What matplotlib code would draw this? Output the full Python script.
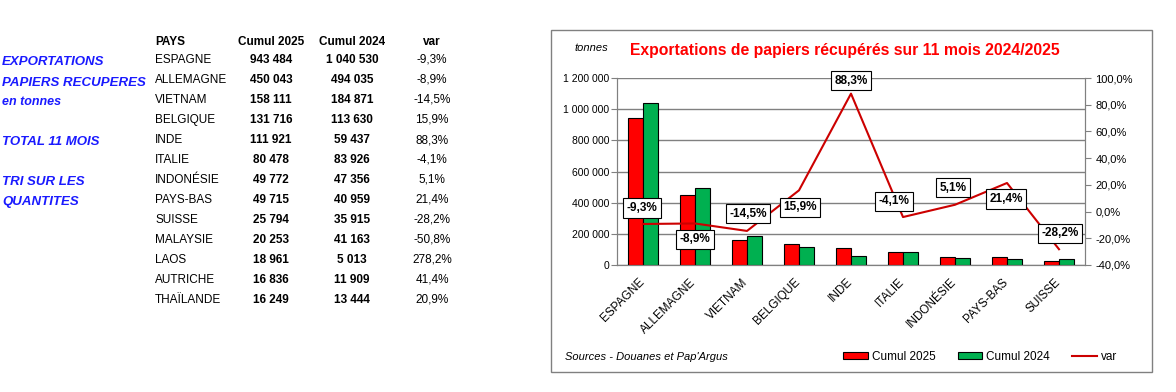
import matplotlib
matplotlib.use("Agg")
import matplotlib.pyplot as plt
import matplotlib.transforms as mtrans
from matplotlib.patches import Rectangle, Patch
from matplotlib.lines import Line2D
from matplotlib.ticker import FuncFormatter

plt.rcParams['font.family'] = ['Liberation Sans', 'DejaVu Sans']

pays = ['ESPAGNE', 'ALLEMAGNE', 'VIETNAM', 'BELGIQUE', 'INDE', 'ITALIE', 'INDONÉSIE',
        'PAYS-BAS', 'SUISSE', 'MALAYSIE', 'LAOS', 'AUTRICHE', 'THAÏLANDE']
cumul_2025 = [943484, 450043, 158111, 131716, 111921, 80478, 49772,
              49715, 25794, 20253, 18961, 16836, 16249]
cumul_2024 = [1040530, 494035, 184871, 113630, 59437, 83926, 47356,
              40959, 35915, 41163, 5013, 11909, 13444]
var = [-9.3, -8.9, -14.5, 15.9, 88.3, -4.1, 5.1, 21.4, -28.2, -50.8, 278.2, 41.4, 20.9]

n_chart = 9  # only the first 9 countries are in the chart

W, H = 1176, 392
def fx(px):
    return px / W
def fy(py):
    return 1 - py / H

def fmt_num(v):
    return f"{v:,}".replace(",", " ")

def fmt_pct(v):
    return f"{v:.1f}%".replace(".", ",")

fig = plt.figure(figsize=(W / 100, H / 100), dpi=100)

# ---- left side: text + table
blue = '#1a1aff'
for txt, py, size in [('EXPORTATIONS', 62, 9.5), ('PAPIERS RECUPERES', 83, 9.5),
                      ('en tonnes', 102, 9), ('TOTAL 11 MOIS', 142, 9.5),
                      ('TRI SUR LES', 182, 9.5), ('QUANTITES', 202, 9.5)]:
    fig.text(fx(2), fy(py), txt, color=blue, fontsize=size, fontweight='bold',
             fontstyle='italic', va='center', ha='left')

fig.text(fx(155), fy(42), 'PAYS', fontsize=8.5, fontweight='bold', va='center')
fig.text(fx(271), fy(42), 'Cumul 2025', fontsize=8.5, fontweight='bold', va='center', ha='center')
fig.text(fx(352), fy(42), 'Cumul 2024', fontsize=8.5, fontweight='bold', va='center', ha='center')
fig.text(fx(432), fy(42), 'var', fontsize=8.5, fontweight='bold', va='center', ha='center')
for i, p in enumerate(pays):
    py = 60 + 20 * i
    fig.text(fx(155), fy(py), p, fontsize=8.5, va='center')
    fig.text(fx(271), fy(py), fmt_num(cumul_2025[i]), fontsize=8.5, fontweight='bold',
             va='center', ha='center')
    fig.text(fx(352), fy(py), fmt_num(cumul_2024[i]), fontsize=8.5, fontweight='bold',
             va='center', ha='center')
    fig.text(fx(432), fy(py), fmt_pct(var[i]), fontsize=8.5, va='center', ha='center')

# ---- chart frame
fig.patches.append(Rectangle((fx(551), fy(372)), fx(1152) - fx(551), fy(30) - fy(372),
                             transform=fig.transFigure, fill=False, edgecolor='#808080', lw=1))

ax = fig.add_axes([fx(617), fy(265), fx(1085) - fx(617), fy(78) - fy(265)])
ax2 = ax.twinx()

x = list(range(n_chart))
w = 0.29
ax.bar([i - w / 2 for i in x], cumul_2025[:n_chart], w, color='#ff0000', edgecolor='black', lw=0.8, zorder=3)
ax.bar([i + w / 2 for i in x], cumul_2024[:n_chart], w, color='#00b050', edgecolor='black', lw=0.8, zorder=3)
ax.set_xlim(-0.5, n_chart - 0.5)
ax.set_ylim(0, 1200000)
ax.set_yticks(range(0, 1200001, 200000))
ax.yaxis.set_major_formatter(FuncFormatter(lambda v, p: fmt_num(int(v))))
ax.grid(axis='y', color='#808080', lw=1, zorder=0)
ax.set_axisbelow(True)
ax.set_xticks(x)
ax.set_xticklabels(pays[:n_chart], rotation=45, ha='right', rotation_mode='anchor', fontsize=8.5)
ax.tick_params(axis='x', length=0, pad=8)
shift = mtrans.ScaledTranslation(-5 / 100, 0, fig.dpi_scale_trans)
for lab in ax.get_xticklabels():
    lab.set_transform(lab.get_transform() + shift)
ax.tick_params(axis='y', labelsize=7.5, length=4, color='#808080', direction='out', pad=1.5)

line_color = '#cc0000'
ax2.plot(x, var[:n_chart], color=line_color, lw=1.5)
ax2.set_ylim(-40, 100)
ax2.set_yticks(range(-40, 101, 20))
ax2.yaxis.set_major_formatter(FuncFormatter(lambda v, p: fmt_pct(v)))
ax2.tick_params(axis='y', labelsize=8, length=4, color='#808080', direction='out')

for a in (ax, ax2):
    for s in a.spines.values():
        s.set_color('#808080')
    a.spines['top'].set_visible(False)

# label offsets in pixels (dx, dy)
offsets = [(-1, 16), (0, -16), (1, 17), (1, -17), (0, 13), (-9, 16), (-2, 17), (-1, -16), (1, 16)]
for i in x:
    dx, dy = offsets[i]
    ax2.annotate(fmt_pct(var[i]), (i, var[i]), xytext=(dx * 0.72, dy * 0.72),
                 textcoords='offset points', ha='center', va='center', fontsize=8.5,
                 fontweight='bold', annotation_clip=False,
                 bbox=dict(boxstyle='square,pad=0.3', fc='white', ec='black', lw=0.8))

fig.text(fx(845), fy(50), 'Exportations de papiers récupérés sur 11 mois 2024/2025',
         color='#ff0000', fontsize=11.3, fontweight='bold', ha='center', va='center')
fig.text(fx(591), fy(48), 'tonnes', fontsize=8, fontstyle='italic', ha='center', va='center')
fig.text(fx(565), fy(357), "Sources - Douanes et Pap'Argus", fontsize=8, fontstyle='italic',
         ha='left', va='center')

handles = [Patch(facecolor='#ff0000', edgecolor='black', lw=0.8),
           Patch(facecolor='#00b050', edgecolor='black', lw=0.8),
           Line2D([], [], color=line_color, lw=1.5)]
fig.legend(handles, ['Cumul 2025', 'Cumul 2024', 'var'], loc='center',
           bbox_to_anchor=(fx(980), fy(357)), ncol=3, frameon=False, fontsize=8.5,
           handlelength=2.1, handleheight=0.5, handletextpad=0.3, columnspacing=1.9)

fig.savefig('out.png', dpi=100, facecolor='white')
